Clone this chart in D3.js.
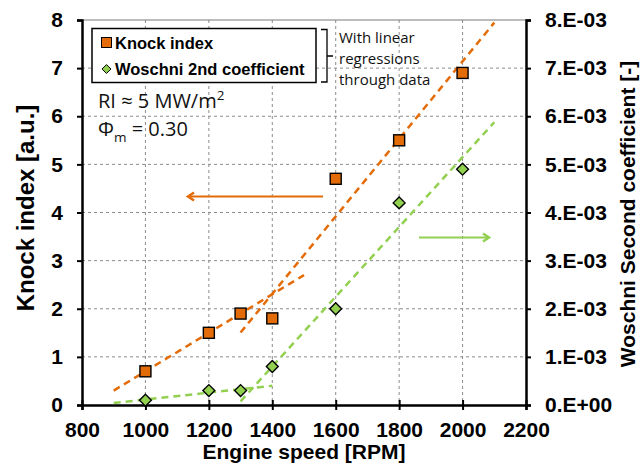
<!DOCTYPE html>
<html>
<head>
<meta charset="utf-8">
<script src="https://cdn.jsdelivr.net/npm/d3@7"></script>
<style>
  body { margin: 0; background: #fff; }
  svg { display: block; }
</style>
</head>
<body>
<svg id="chart" width="640" height="465"></svg>
<script>
// Measured engine speeds and the two response quantities
const speeds = [1000, 1200, 1300, 1400, 1600, 1800, 2000];
const knockIndex = [0.7, 1.5, 1.9, 1.8, 4.7, 5.5, 6.9];
const woschniCoeff = [0.0001, 0.0003, 0.0003, 0.0008, 0.0020, 0.0042, 0.0049];

// Axis ticks
const speedTicks = [800, 1000, 1200, 1400, 1600, 1800, 2000, 2200];
const knockTicks = [0, 1, 2, 3, 4, 5, 6, 7, 8];
const woschniTicks = [0, 0.001, 0.002, 0.003, 0.004, 0.005, 0.006, 0.007, 0.008];
const woschniTickLabels = ["0.E+00", "1.E-03", "2.E-03", "3.E-03", "4.E-03", "5.E-03", "6.E-03", "7.E-03", "8.E-03"];

// Linear fits: which points belong to each regime and the speed span drawn
const knockFitPoints = [[0, 1, 2], [3, 4, 5, 6]];
const knockFitSpans = [[900, 1500], [1300, 2100]];
const woschniFitPoints = [[0, 1, 2], [3, 4, 5, 6]];
const woschniFitSpans = [[900, 1400], [1300, 2100]];

const ORANGE = "#E36C09";
const GREEN = "#92D050";
const BOLD = "'Liberation Sans', Arial, sans-serif";
const PLAIN = "'Open Sans', 'Liberation Sans', sans-serif";

const svg = d3.select("#chart");
const L = 82, R = 526, T = 20, B = 405;

const x = d3.scaleLinear().domain([800, 2200]).range([L, R]);
const yK = d3.scaleLinear().domain([0, 8]).range([B, T]);
const yW = d3.scaleLinear().domain([0, 0.008]).range([B, T]);

// Grid
const grid = svg.append("g");
grid.selectAll("line.v").data(speedTicks.slice(1, -1)).join("line")
  .attr("x1", d => x(d)).attr("x2", d => x(d)).attr("y1", T).attr("y2", B)
  .attr("stroke", "#8c8c8c").attr("stroke-width", 1).attr("stroke-dasharray", "3,3");
grid.selectAll("line.h").data(knockTicks.slice(1, -1)).join("line")
  .attr("x1", L).attr("x2", R).attr("y1", d => yK(d)).attr("y2", d => yK(d))
  .attr("stroke", "#8c8c8c").attr("stroke-width", 1).attr("stroke-dasharray", "3,3");
svg.append("line").attr("x1", L).attr("x2", R).attr("y1", yK(8)).attr("y2", yK(8))
  .attr("stroke", "#7a7a7a").attr("stroke-width", 1);

// Axes
function styleAxis(g) {
  g.select(".domain").attr("stroke", "#000").attr("stroke-width", 2.5);
  g.selectAll(".tick line").attr("stroke", "#000").attr("stroke-width", 2);
  g.selectAll(".tick text").attr("fill", "#000")
    .style("font-family", BOLD).style("font-weight", "bold").style("font-size", "21px");
}

const gx = svg.append("g").attr("transform", `translate(0,${B})`)
  .call(d3.axisBottom(x).tickValues(speedTicks).tickSizeOuter(0).tickSize(5).tickPadding(12).tickFormat(d3.format("d")));
gx.selectAll(".tick line").attr("y1", -5).attr("y2", 5);
styleAxis(gx);

const gl = svg.append("g").attr("transform", `translate(${L},0)`)
  .call(d3.axisLeft(yK).tickValues(knockTicks).tickSizeOuter(0).tickSize(5).tickPadding(14).tickFormat(d3.format("d")));
styleAxis(gl);

const gr = svg.append("g").attr("transform", `translate(${R},0)`)
  .call(d3.axisRight(yW).tickValues(woschniTicks).tickSizeOuter(0).tickSize(5).tickPadding(14)
    .tickFormat((d, i) => woschniTickLabels[i]));
styleAxis(gr);

// Axis titles
svg.append("text").attr("x", (L + R) / 2).attr("y", 459).attr("text-anchor", "middle")
  .style("font-family", BOLD).style("font-weight", "bold").style("font-size", "21px")
  .text("Engine speed [RPM]");
svg.append("text").attr("transform", `translate(34,208) rotate(-90)`).attr("text-anchor", "middle")
  .style("font-family", BOLD).style("font-weight", "bold").style("font-size", "24px")
  .text("Knock index [a.u.]");
svg.append("text").attr("transform", `translate(634.5,214) rotate(-90)`).attr("text-anchor", "middle")
  .style("font-family", BOLD).style("font-weight", "bold").style("font-size", "21px")
  .text("Woschni Second coefficient [-]");

// Least-squares fit through a subset of points
function fit(xs, ys) {
  const mx = d3.mean(xs), my = d3.mean(ys);
  const sxy = d3.sum(xs, (v, i) => (v - mx) * (ys[i] - my));
  const sxx = d3.sum(xs, v => (v - mx) ** 2);
  const slope = sxy / sxx;
  return v => my + slope * (v - mx);
}

function drawFits(values, groups, spans, yScale, color) {
  groups.forEach((idx, k) => {
    const f = fit(idx.map(i => speeds[i]), idx.map(i => values[i]));
    const [a, b] = spans[k];
    svg.append("line")
      .attr("x1", x(a)).attr("y1", yScale(f(a)))
      .attr("x2", x(b)).attr("y2", yScale(f(b)))
      .attr("stroke", color).attr("stroke-width", 2.5).attr("stroke-dasharray", "7,5");
  });
}
drawFits(knockIndex, knockFitPoints, knockFitSpans, yK, ORANGE);
drawFits(woschniCoeff, woschniFitPoints, woschniFitSpans, yW, GREEN);

// Markers
svg.append("g").selectAll("path").data(speeds).join("path")
  .attr("d", d3.symbol(d3.symbolDiamond2, 90)())
  .attr("transform", (d, i) => `translate(${x(d)},${yW(woschniCoeff[i])})`)
  .attr("fill", GREEN).attr("stroke", "#000").attr("stroke-width", 1.4);
svg.append("g").selectAll("rect").data(speeds).join("rect")
  .attr("x", d => x(d) - 5.5).attr("y", (d, i) => yK(knockIndex[i]) - 5.5)
  .attr("width", 11).attr("height", 11)
  .attr("fill", ORANGE).attr("stroke", "#000").attr("stroke-width", 1.4);

// Direction arrows pointing to each series' axis
function arrow(x1, x2, y, color) {
  svg.append("line").attr("x1", x1).attr("x2", x2).attr("y1", y).attr("y2", y)
    .attr("stroke", color).attr("stroke-width", 2);
  const dir = Math.sign(x2 - x1);
  svg.append("path")
    .attr("d", `M${x2 - dir * 6},${y - 4} L${x2},${y} L${x2 - dir * 6},${y + 4}`)
    .attr("fill", "none").attr("stroke", color).attr("stroke-width", 2.5);
}
arrow(323, 188, 196.5, ORANGE);
arrow(419, 489, 237.5, GREEN);

// Legend
const lg = svg.append("g");
lg.append("rect").attr("x", 92).attr("y", 28.5).attr("width", 224).attr("height", 54)
  .attr("fill", "#fff").attr("stroke", "#000").attr("stroke-width", 1.5);
lg.append("rect").attr("x", 101.5).attr("y", 37.5).attr("width", 10).attr("height", 10)
  .attr("fill", ORANGE).attr("stroke", "#000").attr("stroke-width", 1);
lg.append("path").attr("d", d3.symbol(d3.symbolDiamond2, 50)())
  .attr("transform", "translate(106.5,69)")
  .attr("fill", GREEN).attr("stroke", "#000").attr("stroke-width", 1);
lg.append("text").attr("x", 115).attr("y", 48.5)
  .style("font-family", BOLD).style("font-weight", "bold").style("font-size", "16.5px").text("Knock index");
lg.append("text").attr("x", 115).attr("y", 75)
  .style("font-family", BOLD).style("font-weight", "bold").style("font-size", "16.5px").text("Woschni 2nd coefficient");

// Bracket and note about the fits
svg.append("path").attr("d", "M321,29.5 H327 V82 H321 M327,56 H333")
  .attr("fill", "none").attr("stroke", "#000").attr("stroke-width", 1.3);
const note = svg.append("text").style("font-family", PLAIN).style("font-size", "15px").attr("fill", "#111");
["With linear", "regressions", "through data"].forEach((s, i) => {
  note.append("tspan").attr("x", 339).attr("y", 43 + i * 21).text(s);
});

// Operating condition annotations
const cond = svg.append("g").style("font-family", PLAIN).attr("fill", "#111");
const t1 = cond.append("text").attr("x", 98).attr("y", 108).style("font-size", "20px");
t1.append("tspan").text("RI ≈ 5 MW/m");
t1.append("tspan").attr("dy", -8).style("font-size", "13.5px").text("2");
const t2 = cond.append("text").attr("x", 98).attr("y", 136).style("font-size", "20px");
t2.append("tspan").text("Φ");
t2.append("tspan").attr("dy", 6).style("font-size", "13.5px").text("m");
t2.append("tspan").attr("dy", -6).text(" = 0.30");
</script>
</body>
</html>
